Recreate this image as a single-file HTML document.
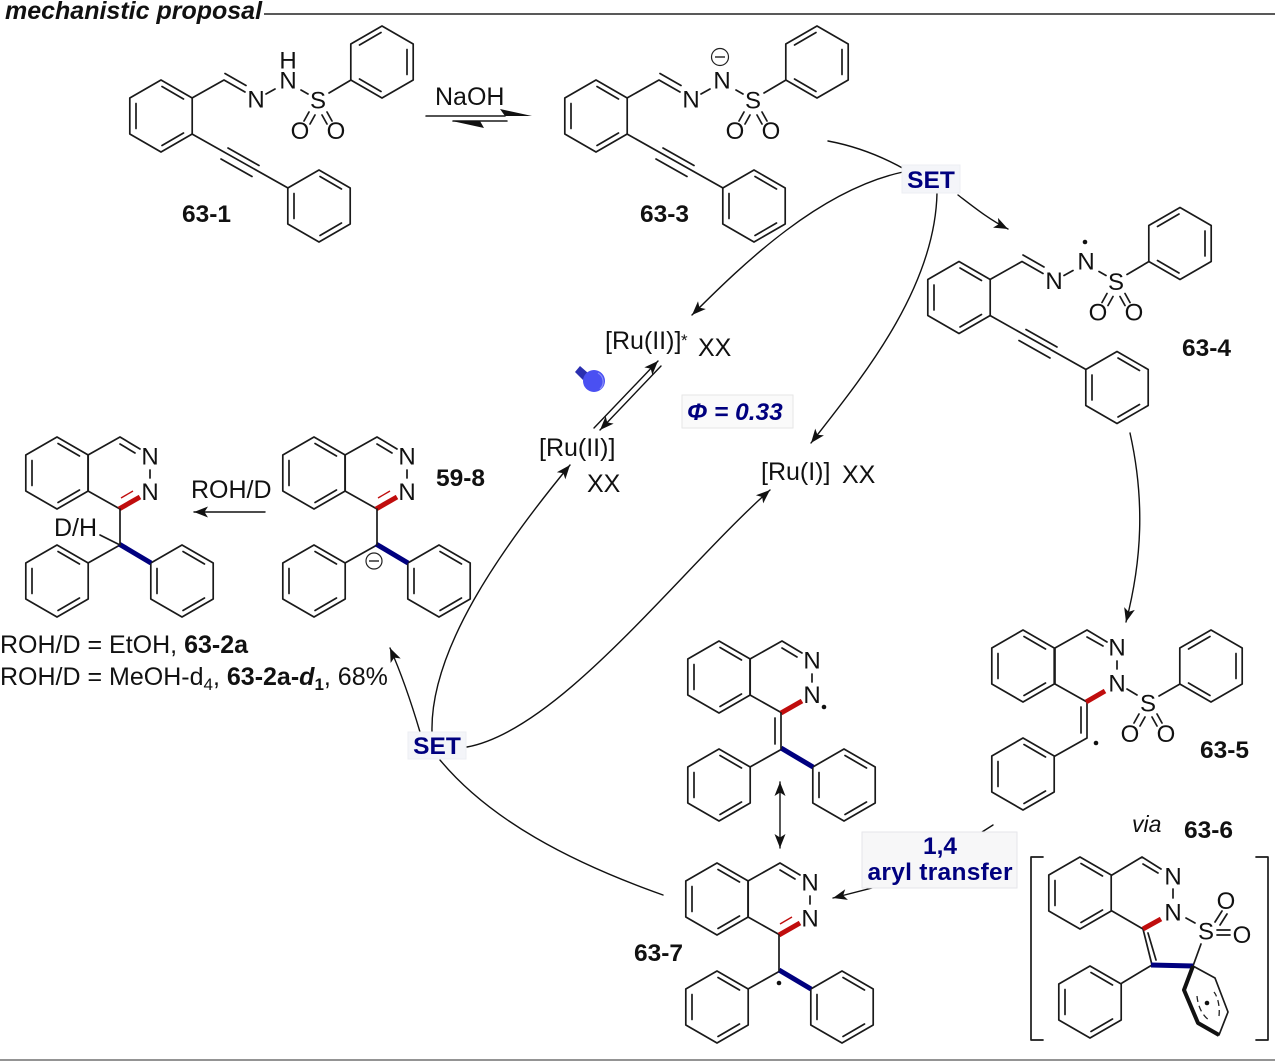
<!DOCTYPE html>
<html><head><meta charset="utf-8"><style>
html,body{margin:0;padding:0;background:#fff}
svg{display:block}
text{font-family:"Liberation Sans",sans-serif;fill:#111}
.a{font-size:24px;text-anchor:middle}
.b{font-size:24.5px;font-weight:bold}
.t{font-size:25px}
.n{font-size:24.5px;font-weight:bold;fill:#00007f;text-anchor:middle}
.l{stroke:#1a1a1a;stroke-width:1.7;fill:none;stroke-linecap:round;stroke-linejoin:round}
.c{stroke:#111;stroke-width:1.4;fill:none;stroke-linecap:round}
.r{stroke:#c00d0d;stroke-width:5;fill:none}
.u{stroke:#00007f;stroke-width:5;fill:none}
.r1{stroke:#c00d0d;stroke-width:1.4;fill:none}
</style></head><body>
<svg width="1275" height="1062" viewBox="0 0 1275 1062" xmlns="http://www.w3.org/2000/svg">
<defs>
<marker id="ah" markerUnits="userSpaceOnUse" markerWidth="18" markerHeight="14" refX="15" refY="6" orient="auto"><path d="M15,6 L1,0.5 L4.5,6 L1,11.5 Z" fill="#111"/></marker>
<marker id="as" markerUnits="userSpaceOnUse" markerWidth="18" markerHeight="14" refX="3" refY="6" orient="auto"><path d="M3,6 L17,0.5 L13.5,6 L17,11.5 Z" fill="#111"/></marker>
<g id="A" class="l"><path d="M0,-36 L31.2,-18 V18 L0,36 L-31.2,18 V-18 Z"/><path d="M1,-29.5 L22.5,-17 M22.5,17 L1,29.5 M-25,-12.5 V12.5"/></g>
<g id="B" class="l"><path d="M0,-36 L31.2,-18 V18 L0,36 L-31.2,18 V-18 Z"/><path d="M-1,-29.5 L-22.5,-17 M-22.5,17 L-1,29.5 M25,-12.5 V12.5"/></g>
<g id="hy">
<use href="#A" x="161" y="116"/><use href="#B" x="382" y="62"/><use href="#A" x="319" y="206"/>
<path class="l" d="M192,98 L224,80 L245,92 M225,73.5 L246,85.5 M266,94 L275,89 M301,90 L308,94 M329,93 L351,80 M304,121 L309,112 M310,124 L315,115 M322,115 L327,124 M327,112 L332,121 M192,134 L288,188 M228,148 L259,165.5 M221,159 L252,176.5"/>
<text class="a" x="256" y="107.5">N</text><text class="a" x="318" y="108.5">S</text><text class="a" x="300" y="139">O</text><text class="a" x="336" y="139">O</text>
</g>
<g id="pz">
<use href="#A" x="314" y="473"/>
<path class="l" d="M345,455 L377,437 L397,449 M377,444 L392,453 M345,455 V491 L377,509 M407,470 V478"/>
<path class="r" d="M376,509 L397,497"/>
<text class="a" x="407" y="464.5">N</text>
</g>
<g id="ph2">
<use href="#A" x="314" y="581"/><use href="#A" x="439" y="581"/>
<path class="l" d="M345,563 L377,545"/><path class="u" d="M376,544 L408,563"/>
</g>
</defs>

<text x="5" y="19" style="font-size:25px;font-weight:bold;font-style:italic">mechanistic proposal</text>
<line x1="264" y1="14" x2="1275" y2="14" stroke="#222" stroke-width="1.4"/>
<line x1="0" y1="1060" x2="1275" y2="1060" stroke="#555" stroke-width="1.2"/>

<!-- 63-1 -->
<use href="#hy"/>
<text class="a" x="288" y="88.5">N</text><text class="a" x="288" y="68.5">H</text>
<text class="b" x="182" y="222">63-1</text>

<!-- NaOH -->
<text class="t" x="435" y="105">NaOH</text>
<path class="l" style="stroke-width:1.5" d="M426,116 H505 M453,121 H507"/>
<path d="M532,116 L500,109 L505,116 Z M452,121 L484,128 L480,121 Z" fill="#111"/>

<!-- 63-3 -->
<use href="#hy" x="435"/>
<text class="a" x="722" y="88.5">N</text>
<circle cx="720" cy="57" r="8.5" fill="none" stroke="#222" stroke-width="1.2"/><path d="M715,57 H725" stroke="#222" stroke-width="1.4"/>
<text class="b" x="640" y="222">63-3</text>

<!-- 63-4 -->
<use href="#hy" x="798" y="181.5"/>
<text class="a" x="1086" y="269.5">N</text>
<circle cx="1085" cy="242" r="2.3" fill="#111"/>
<text class="b" x="1182" y="356">63-4</text>

<!-- arrows top -->
<path class="c" d="M828,141 C860,147 885,158 906,170"/>
<path class="c" d="M958,195 C975,208 990,220 1008,229" marker-end="url(#ah)"/>
<path class="c" d="M903,172 C820,190 745,262 692,315" marker-end="url(#ah)"/>
<path class="c" d="M937,193 C935,290 860,380 811,443" marker-end="url(#ah)"/>
<path class="c" d="M1130,433 C1145,500 1142,560 1126,622" marker-end="url(#ah)"/>
<rect x="902" y="165" width="58" height="28" fill="#f4f5f9" stroke="#eceef3"/>
<text class="n" x="931" y="188">SET</text>

<!-- Ru -->
<text class="t" x="605" y="349">[Ru(II)]</text><text x="681" y="346" style="font-size:17px">*</text>
<text class="t" x="698" y="356">XX</text>
<text class="t" x="539" y="456">[Ru(II)]</text>
<text class="t" x="587" y="492">XX</text>
<text class="t" x="761" y="480">[Ru(I)]</text>
<text class="t" x="842" y="483">XX</text>
<path class="c" d="M594,428 L658,361" marker-end="url(#ah)"/>
<path class="c" d="M661,366 L600,430" marker-end="url(#ah)"/>
<path d="M575,372 L580,366 L588,373 L583,380 Z" fill="#2a2fb0"/>
<circle cx="594" cy="381" r="11" fill="#4a50f2"/>
<path d="M598,373 A10,10 0 0 1 600,389" fill="none" stroke="#8b90f8" stroke-width="1.2"/>
<rect x="682" y="395" width="111" height="33" fill="#fafafa" stroke="#e6e6e6"/>
<text x="687" y="420" style="font-size:24.5px;font-weight:bold;font-style:italic;fill:#00007f">Φ = 0.33</text>

<!-- 63-2a -->
<use href="#pz" x="-257"/>
<use href="#ph2" x="-257"/>
<text class="a" x="150" y="500">N</text>
<path class="r1" d="M121,498 L133,491"/>
<path class="l" d="M120,509 V545 M100,535 L120,545"/>
<text class="t" x="54" y="536">D/H</text>
<text class="t" x="191" y="498">ROH/D</text>
<path class="c" d="M265,512 H194" marker-end="url(#ah)"/>

<!-- 59-8 -->
<use href="#pz"/>
<use href="#ph2"/>
<text class="a" x="407" y="500">N</text>
<path class="r1" d="M378,498 L390,491"/>
<path class="l" d="M377,509 V545"/>
<circle cx="374" cy="561" r="8" fill="#fff" stroke="#222" stroke-width="1.2"/><path d="M369,561 H379" stroke="#222" stroke-width="1.4"/>
<text class="b" x="436" y="486">59-8</text>

<text class="t" x="0" y="653">ROH/D = EtOH, <tspan font-weight="bold">63-2a</tspan></text>
<text class="t" x="0" y="685">ROH/D = MeOH-d<tspan font-size="17" dy="5">4</tspan><tspan dy="-5">, </tspan><tspan font-weight="bold">63-2a-<tspan font-style="italic">d</tspan><tspan font-size="17" dy="5">1</tspan></tspan><tspan dy="-5">, 68%</tspan></text>

<!-- lower curved arrows -->
<path class="c" d="M663,895 C570,862 490,820 440,760"/>
<path class="c" d="M432,732 C430,650 500,550 570,465" marker-end="url(#ah)"/>
<path class="c" d="M467,747 C560,730 680,570 770,490" marker-end="url(#ah)"/>
<path class="c" d="M420,732 C412,705 402,675 390,648" marker-end="url(#ah)"/>
<rect x="408" y="732" width="58" height="27" fill="#f4f5f9" stroke="#eceef3"/>
<text class="n" x="437" y="754">SET</text>

<!-- radical form -->
<g transform="translate(405,204)"><use href="#pz"/><use href="#ph2"/></g>
<text class="a" x="812" y="703">N</text>
<circle cx="824" cy="707" r="2.3" fill="#111"/>
<path class="l" d="M781,713 V749 M775,718 V744"/>
<path class="c" d="M780,782 V848" marker-start="url(#as)" marker-end="url(#ah)"/>

<!-- 63-7 -->
<g transform="translate(403,426)"><use href="#pz"/><use href="#ph2"/></g>
<text class="a" x="810" y="926.5">N</text>
<path class="r1" d="M780,924 L792,917"/>
<path class="l" d="M779,935 V971"/>
<circle cx="779" cy="983" r="2.3" fill="#111"/>
<text class="b" x="634" y="961">63-7</text>

<!-- 63-5 -->
<use href="#A" x="1023" y="666"/><use href="#B" x="1211" y="666"/><use href="#A" x="1023" y="774"/>
<path class="l" d="M1055,648 L1087,630 L1107,642 M1087,637 L1103,646 M1055,648 V684 L1087,702 M1117,661 V669 M1087,702 V738 M1081,707 V733 M1087,738 L1055,756 M1127,689 L1137,695 M1159,696 L1180,684 M1134,723 L1139,714 M1140,726 L1145,717 M1152,717 L1157,726 M1157,714 L1162,723"/>
<path class="r" d="M1086,702 L1105,691"/>
<text class="a" x="1117" y="655.5">N</text><text class="a" x="1117" y="691.5">N</text><text class="a" x="1148" y="711.5">S</text><text class="a" x="1130" y="742">O</text><text class="a" x="1166" y="742">O</text>
<circle cx="1096" cy="743" r="2.3" fill="#111"/>
<text class="b" x="1200" y="758">63-5</text>

<!-- 1,4 aryl -->
<path class="c" d="M993,825 L982,832"/>
<path class="c" d="M872,888 L833,898" marker-end="url(#ah)"/>
<rect x="862" y="832" width="155" height="56" fill="#f7f7f8" stroke="#e6e6ea"/>
<text class="n" x="940" y="854">1,4</text>
<text class="n" x="940" y="880" textLength="145" lengthAdjust="spacing">aryl transfer</text>

<!-- 63-6 -->
<text x="1132" y="832" style="font-size:23px;font-style:italic">via</text>
<text class="b" x="1184" y="838">63-6</text>
<path class="l" d="M1043,857 H1031 V1040 H1043 M1256,857 H1268 V1040 H1256"/>
<use href="#A" x="1080" y="893"/><use href="#A" x="1090" y="1002"/>
<path class="l" d="M1112,875 L1142,857 L1161,869 M1143,864 L1158,873 M1112,911 L1143,929 L1152,965 M1148,933 L1156,960 M1122,983 L1152,965 M1173,889 V898 M1186,918 L1195,923 M1201,944 L1193,966 M1215,922 L1222,911 M1220,925 L1227,914 M1217,930 H1230 M1217,935 H1230 M1219,1035 L1228,1012 L1215,978 L1193,966"/>
<path class="r" d="M1143,929 L1161,919"/>
<path class="u" d="M1151,965 L1193,966"/>
<path d="M1193,966 L1184,990 L1198,1023 L1219,1035" fill="none" stroke="#111" stroke-width="4" stroke-linejoin="round"/>
<path d="M1197,996 C1198,1008 1204,1018 1211,1021 M1219,1016 C1220,1007 1218,997 1214,992" fill="none" stroke="#222" stroke-width="1.3" stroke-dasharray="6 4"/>
<circle cx="1207" cy="1003" r="2.3" fill="#111"/>
<text class="a" x="1173" y="884.5">N</text><text class="a" x="1173" y="920.5">N</text><text class="a" x="1206" y="939.5">S</text><text class="a" x="1226" y="909">O</text><text class="a" x="1242" y="943">O</text>
</svg>
</body></html>
